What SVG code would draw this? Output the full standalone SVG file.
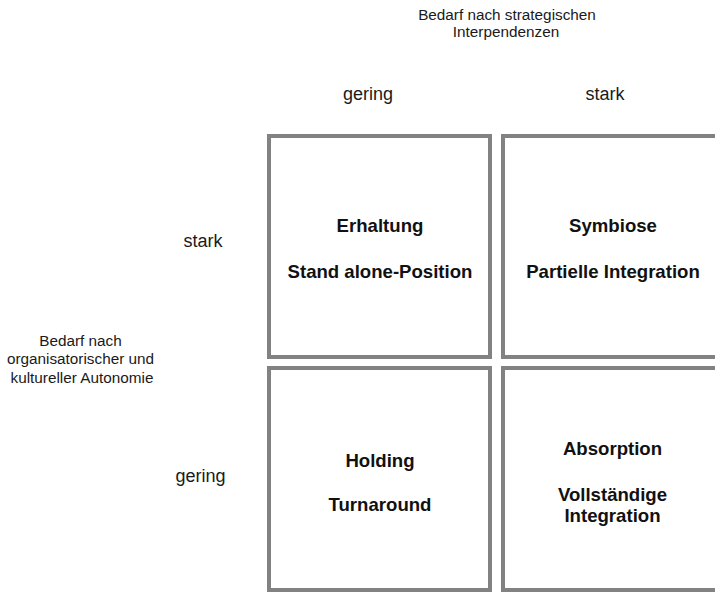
<svg xmlns="http://www.w3.org/2000/svg" width="715" height="592" viewBox="0 0 715 592">
  <style>
    .cell { fill: #ffffff; stroke: #828282; stroke-width: 4; }
    .axis { font-family: "Liberation Sans", Arial, sans-serif; font-size: 15.3px; fill: #1a1a1a; text-anchor: middle; }
    .level { font-family: "Liberation Sans", Arial, sans-serif; font-size: 18px; fill: #1a1a1a; text-anchor: middle; }
    .name { font-family: "Liberation Sans", Arial, sans-serif; font-size: 18.6px; font-weight: bold; fill: #111111; text-anchor: middle; }
  </style>
  <rect width="715" height="592" fill="#ffffff"/>

  <!-- Axis titles -->
  <g id="axis-x-title">
    <text class="axis" x="507" y="20">Bedarf nach strategischen</text>
    <text class="axis" x="506" y="37">Interpendenzen</text>
  </g>
  <g id="axis-y-title">
    <text class="axis" x="80.5" y="346">Bedarf nach</text>
    <text class="axis" x="80.5" y="364">organisatorischer und</text>
    <text class="axis" x="82" y="383">kultureller Autonomie</text>
  </g>

  <!-- Axis levels -->
  <g id="x-levels">
    <text class="level" x="368" y="100">gering</text>
    <text class="level" x="605" y="100">stark</text>
  </g>
  <g id="y-levels">
    <text class="level" x="203" y="247">stark</text>
    <text class="level" x="200.5" y="482">gering</text>
  </g>

  <!-- Quadrants -->
  <g id="q-erhaltung">
    <rect class="cell" x="269" y="136" width="221" height="221"/>
    <text class="name" x="380" y="232">Erhaltung</text>
    <text class="name" x="380" y="277.5">Stand alone-Position</text>
  </g>
  <g id="q-symbiose">
    <rect class="cell" x="503" y="136" width="221" height="221"/>
    <text class="name" x="613" y="232">Symbiose</text>
    <text class="name" x="613" y="277.5">Partielle Integration</text>
  </g>
  <g id="q-holding">
    <rect class="cell" x="269" y="368" width="221" height="222"/>
    <text class="name" x="380" y="466.5">Holding</text>
    <text class="name" x="380" y="511">Turnaround</text>
  </g>
  <g id="q-absorption">
    <rect class="cell" x="503" y="368" width="221" height="222"/>
    <text class="name" x="612.5" y="455">Absorption</text>
    <text class="name" x="612.5" y="500.5">Vollständige</text>
    <text class="name" x="612.5" y="521.5">Integration</text>
  </g>
</svg>
